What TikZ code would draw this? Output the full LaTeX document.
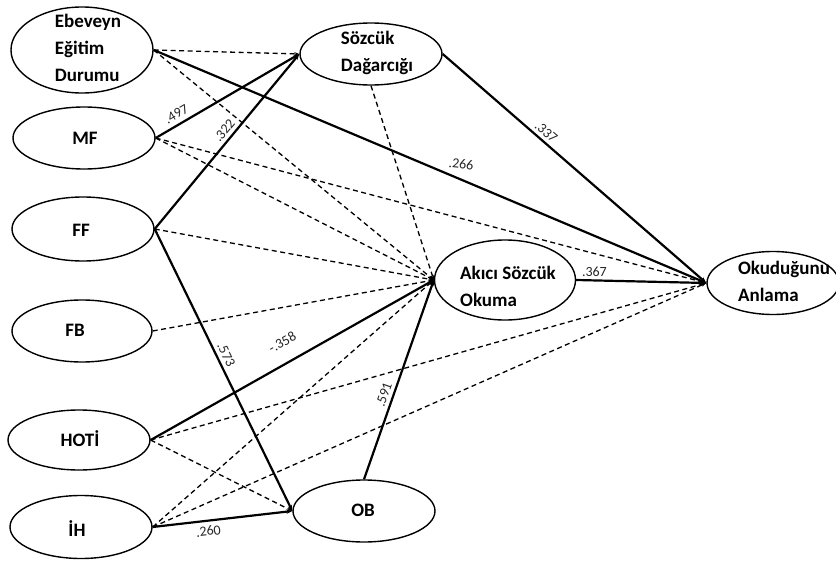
\documentclass[tikz,border=0pt]{standalone}
\usepackage{fontspec}
\setmainfont{Carlito}
\usetikzlibrary{shapes.geometric,arrows.meta}

\begin{document}
\begin{tikzpicture}[x=1pt,y=-1pt,
  var/.style={draw, ellipse, line width=1.4pt, inner sep=0pt},
  vtext/.style={font=\bfseries\fontsize{19}{27}\selectfont, align=left, inner sep=0pt},
  lbl/.style={font=\fontsize{14}{16}\selectfont, text=black!85, inner sep=1.5pt},
  sol/.style={line width=2.2pt, -{Stealth[length=6pt,width=4.5pt]}},
  dsh/.style={line width=1.3pt, dash pattern=on 5pt off 3.5pt, -{Stealth[length=5pt,width=3.5pt]}}
]
\clip (0,0) rectangle (836,562);
\fill[white] (0,0) rectangle (836,562);

% latent / observed variables
\node[var, minimum width=142pt, minimum height=86pt] (ebe) at (82,50) {};
\node[vtext] (ebe-t) at (88,48) {Ebeveyn\\Eğitim\\Durumu};
\node[var, minimum width=142pt, minimum height=62pt] (mf) at (84,138) {};
\node[vtext] (mf-t) at (85,138) {MF};
\node[var, minimum width=142pt, minimum height=64pt] (ff) at (83,229) {};
\node[vtext] (ff-t) at (81,230) {FF};
\node[var, minimum width=140pt, minimum height=62pt] (fb) at (82,331) {};
\node[vtext] (fb-t) at (75,330) {FB};
\node[var, minimum width=142pt, minimum height=60pt] (hoti) at (79,440) {};
\node[vtext] (hoti-t) at (80,439) {HOTİ};
\node[var, minimum width=142pt, minimum height=63pt] (ih) at (81,527) {};
\node[vtext] (ih-t) at (77,529) {İH};
\node[var, minimum width=142pt, minimum height=62pt] (ob) at (364,511) {};
\node[vtext] (ob-t) at (363,510) {OB};
\node[var, minimum width=142pt, minimum height=62pt] (sd) at (371,54) {};
\node[vtext] (sd-t) at (377,53) {Sözcük\\Dağarcığı};
\node[var, minimum width=141pt, minimum height=80pt] (ak) at (505,280) {};
\node[vtext] (ak-t) at (508,286) {Akıcı Sözcük\\Okuma};
\node[var, minimum width=132pt, minimum height=63pt] (ok) at (773,283) {};
\node[vtext] (ok-t) at (784,281) {Okuduğunu\\Anlama};

% non-significant paths
\draw[dsh] (ebe.east) -- (sd.west);
\draw[dsh] (ebe.east) -- (ak.west);
\draw[dsh] (mf.east) -- (ak.west);
\draw[dsh] (mf.east) -- (ok.west);
\draw[dsh] (ff.east) -- (ak.west);
\draw[dsh] (fb.east) -- (ak.west);
\draw[dsh] (sd.south) -- (ak.west);
\draw[dsh] (hoti.east) -- (ok.west);
\draw[dsh] (hoti.east) -- (ob.west);
\draw[dsh] (ih.east) -- (ak.west);
\draw[dsh] (ih.east) -- (ok.west);

% significant paths with coefficients
\draw[sol] (ebe.east) -- node[lbl, pos=.555, above=8pt, rotate=-6] {.266} (ok.west);
\draw[sol] (mf.east) -- node[lbl, pos=.18, sloped, above=3pt] {.497} (sd.west);
\draw[sol] (ff.east) -- node[lbl, pos=.53, sloped, above=2pt] {.322} (sd.west);
\draw[sol] (ff.east) -- node[lbl, pos=.46, sloped, above=2pt] {.573} (ob.west);
\draw[sol] (sd.east) -- node[lbl, pos=.37, sloped, above=2pt] {.337} (ok.west);
\draw[sol] (ak.east) -- node[lbl, pos=.14, above=1pt] {.367} (ok.west);
\draw[sol] (hoti.east) -- node[lbl, pos=.5, sloped, above=13pt] {-.358} (ak.west);
\draw[sol] (ob.north) -- node[lbl, pos=.41, sloped, above=2pt] {.591} (ak.west);
\draw[sol] (ih.east) -- node[lbl, pos=.39, sloped, below=3pt] {.260} (ob.west);
\end{tikzpicture}
\end{document}
